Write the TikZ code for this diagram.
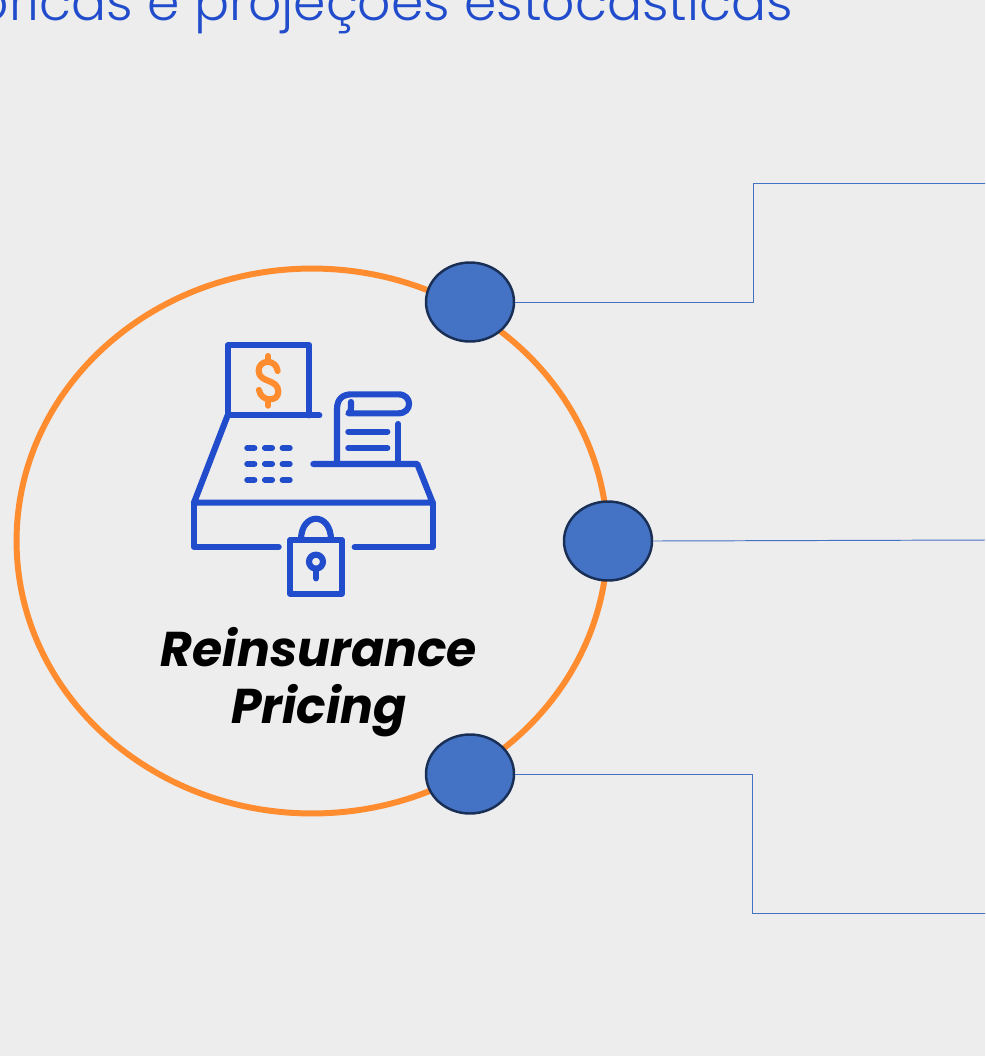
\documentclass[tikz,border=0pt]{standalone}
\usepackage{fontspec}
\setmainfont{Poppins}
\newfontfamily\titlefont{Poppins Light}
\usetikzlibrary{shapes.geometric}
\definecolor{bg}{HTML}{EDEDED}
\definecolor{ringc}{HTML}{FF8C2F}
\definecolor{dotc}{HTML}{4472C4}
\definecolor{dotb}{HTML}{1A2F55}
\definecolor{iconc}{HTML}{214CCB}
\tikzset{
 ring/.style={draw=ringc,line width=3.4pt,ellipse,inner sep=0pt,minimum width=11.82cm,minimum height=10.9cm},
 dot/.style={draw=dotb,fill=dotc,line width=1.4pt,ellipse,inner sep=0pt,minimum width=1.76cm,minimum height=1.58cm},
 link/.style={draw=dotc,line width=0.55pt},
 ico/.style={draw=iconc,line width=3.5pt,line cap=round,line join=round},
 icoo/.style={draw=ringc,line width=3.5pt,line cap=round,line join=round},
 title/.style={text=iconc,font=\titlefont\fontsize{29.6}{30}\selectfont,inner sep=0pt},
 label/.style={font=\fontsize{27.8}{32.6}\selectfont\bfseries\itshape,align=center,inner sep=0pt}
}
\begin{document}
\begin{tikzpicture}[x=0.02cm,y=-0.02cm]
\useasboundingbox (0,0) rectangle (985,1056);
\clip (0,0) rectangle (985,1056);
\fill[bg] (0,0) rectangle (985,1056);
\node[title,anchor=base east] (head) at (793,20) {históricas e projeções estocásticas};
\node[ring] (big) at (312,541) {};
\begin{scope}[shift={(170,330)},x=0.02cm/3,y=-0.02cm/3]
\draw[ico] (448,256) -- (173,256) -- (173,46) -- (418,46) -- (418,256);
\draw[ico] (173,256) -- (72,518) -- (788,518) -- (742,402) -- (430,402);
\draw[ico] (326,651) -- (72,651) -- (72,518);
\draw[ico] (554,651) -- (788,651) -- (788,518);
\draw[ico] (361,630) rectangle (515,791);
\draw[ico] (393,630) .. controls (393,545) and (483,545) .. (483,630);
\draw[ico] (438,695) circle [x radius=21, y radius=21];
\draw[ico] (438,718) -- (438,745);
\foreach \yy in {354,402,450}{
 \foreach \xx in {232,285,338}{
  \draw[ico] (\xx,\yy) -- ++(21,0);
 }
}
\draw[ico] (501,402) -- (501,238) .. controls (501,205) and (520,193) .. (545,193) -- (685,193) .. controls (728,193) and (728,250) .. (685,250) -- (535,250) .. controls (545,245) and (543,230) .. (543,216);
\draw[ico] (685,402) -- (685,282);
\draw[ico] (535,305) -- (652,305);
\draw[ico] (535,354) -- (652,354);
\draw[icoo] (323,123) .. controls (318,85) and (266,88) .. (266,122) .. controls (266,160) and (325,145) .. (325,185) .. controls (325,218) and (272,215) .. (267,180);
\draw[icoo] (295,78) -- (295,92);
\draw[icoo] (295,212) -- (295,227);
\end{scope}
\node[label] (name) at (319,682) {Reinsurance\\Pricing};
\node[dot] (d1) at (470,302) {};
\node[dot] (d2) at (608,541) {};
\node[dot] (d3) at (470,774) {};
\coordinate (e1) at (986,183);
\coordinate (e2) at (986,540);
\coordinate (e3) at (986,913);
\draw[link] (d1.east) -- (753,302) -- (753,183) -- (e1);
\draw[link] (d2.east) -- (e2);
\draw[link] (d3.east) -- (752,774) -- (752,913) -- (e3);
\end{tikzpicture}
\end{document}
